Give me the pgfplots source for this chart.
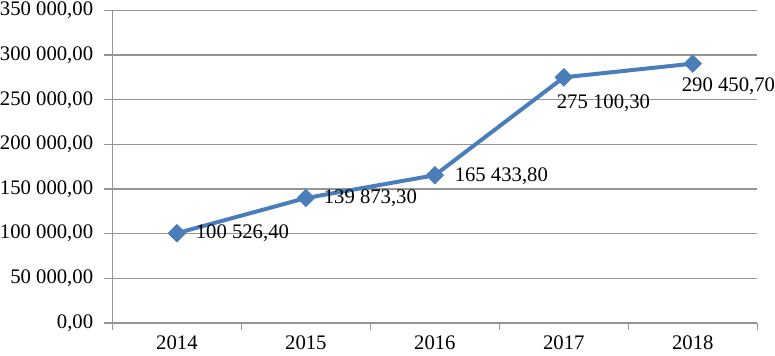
\documentclass[border=0pt]{standalone}
\usepackage{pgfplots}
\pgfplotsset{compat=1.18}
\usepackage{pgfplotstable}
\usepackage{fontspec}
\setmainfont{Liberation Serif}
\definecolor{lineblue}{HTML}{4A7EBB}
\definecolor{gridgray}{HTML}{959595}

\pgfplotstableread[col sep=semicolon]{
x;y;dx;dy;lab
1;100526.4;8.5;0;100 526,40
2;139873.3;8;0;139 873,30
3;165433.8;9;-0.5;165 433,80
4;275100.3;-4.5;-13;275 100,30
5;290450.7;-6.5;-11.5;290 450,70
}\datatable

\begin{document}
\begin{tikzpicture}
\begin{axis}[
  scale only axis,
  width=324bp, height=157bp,
  xmin=0.5, xmax=5.5, ymin=0, ymax=350000,
  xtick={1,2,3,4,5},
  xticklabels={2014,2015,2016,2017,2018},
  minor xtick={0.5,1.5,2.5,3.5,4.5,5.5},
  ytick={0,50000,100000,150000,200000,250000,300000,350000},
  scaled y ticks=false,
  ymajorgrids,
  grid style={gridgray, line width=0.75bp},
  axis x line*=bottom,
  axis y line*=left,
  axis line style={gridgray, line width=0.75bp},
  tick align=outside,
  major tick length=4bp,
  minor tick length=3.5bp,
  every major x tick/.append style={draw=none},
  every minor x tick/.append style={gridgray, line width=0.75bp},
  every major y tick/.append style={gridgray, line width=0.75bp},
  /pgf/number format/assume math mode=true,
  tick label style={font=\fontsize{10.4bp}{12bp}\selectfont, black},
  yticklabel style={inner xsep=0pt, inner ysep=1bp, xshift=-5.5bp,
    /pgf/number format/fixed, /pgf/number format/fixed zerofill,
    /pgf/number format/precision=2, /pgf/number format/use comma,
    /pgf/number format/1000 sep={\ }},
  xticklabel style={inner xsep=0pt, inner ysep=3bp, yshift=1bp},
]
\addplot[lineblue, line width=2bp, mark=square*, mark size=2.3bp,
  mark options={solid, fill=lineblue, rotate=45},
  nodes near coords, point meta=explicit symbolic,
  visualization depends on={\thisrow{dx}\as\labdx},
  visualization depends on={\thisrow{dy}\as\labdy},
  every node near coord/.append style={anchor=west, inner sep=0pt, xshift=\labdx bp, yshift=\labdy bp, font=\fontsize{10.4bp}{12bp}\selectfont, text=black}
] table[x=x, y=y, meta=lab]{\datatable};
\end{axis}
\end{tikzpicture}
\end{document}
